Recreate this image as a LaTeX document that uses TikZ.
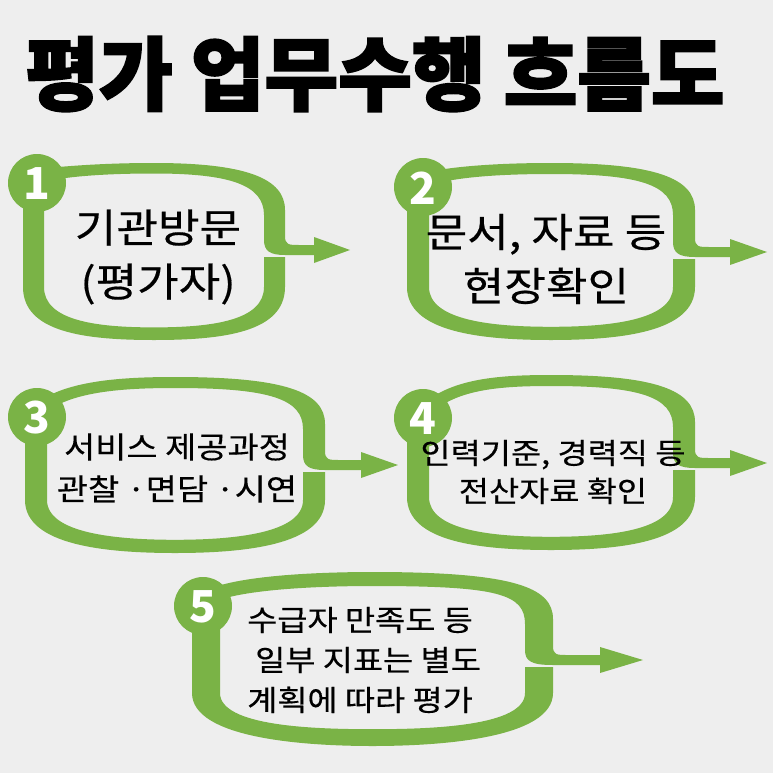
\documentclass[tikz,border=0pt]{standalone}
\usepackage{fontspec}
\newfontfamily\kr{Noto Sans CJK KR}
\newfontfamily\krw{Noto Sans CJK KR}[FakeStretch=1.13, FakeBold=0.4]
\newfontfamily\titlefont{Noto Sans CJK KR}[BoldFeatures={FakeBold=2.5}]
\definecolor{gr}{RGB}{122,179,70}
\definecolor{bg}{RGB}{238,238,238}
% #1 L, #2 R, #3 T, #4 B, #5 arrow y, #6 tip x, #7 cx, #8 cy, #9 band width
\newcommand\flowloop[9]{%
 \fill[gr] ({#7},{#8-14}) .. controls ({#7+30},{#3+3}) and ({(#1+#2)/2-50},{#3}) .. ({(#1+#2)/2},{#3})
   .. controls ({#2-40},{#3}) and ({#2},{#3+15}) .. ({#2},{#3+47})
   -- ({#2},{#5-14}) .. controls ({#2},{#5-5}) and ({#2+4},{#5-5}) .. ({#2+14},{#5-5})
   -- ({#6-#9-15},{#5-5}) -- ({#6-#9-15},{#5-13}) -- ({#6},{#5}) -- ({#6-#9-15},{#5+13}) -- ({#6-#9-15},{#5+5})
   -- ({#2},{#5+5}) .. controls ({#2-#9+6},{#5+5}) and ({#2-#9},{#5+1}) .. ({#2-#9},{#5-10})
   -- ({#2-#9},{#3+52}) .. controls ({#2-#9},{#3+22}) and ({#2-55},{#3+#9/2}) .. ({(#1+#2)/2},{#3+#9/2})
   .. controls ({(#1+#2)/2-50},{#3+#9/2}) and ({#7+30},{#3+#9/2+3}) .. ({#7+5},{#8-1}) -- cycle;
 \fill[gr] ({#1},{#8}) -- ({#1},{#4-53}) .. controls ({#1},{#4-8}) and ({(#1+#2)/2-70},{#4}) .. ({(#1+#2)/2},{#4})
   .. controls ({(#1+#2)/2+70},{#4}) and ({#2},{#4-8}) .. ({#2},{#4-53}) -- ({#2},{#5+7}) -- ({#2-#9},{#5+7}) -- ({#2-#9},{#4-53})
   .. controls ({#2-#9},{#4-20}) and ({(#1+#2)/2+60},{#4-0.6*#9}) .. ({(#1+#2)/2},{#4-0.6*#9})
   .. controls ({(#1+#2)/2-60},{#4-0.6*#9}) and ({#1+#9},{#4-20}) .. ({#1+#9},{#4-53}) -- ({#1+#9},{#8}) -- cycle;
 \fill[gr] ({#7},{#8}) circle (29pt);
}
\tikzset{
  numtext/.style={text=white, font=\kr\bfseries\fontsize{44}{44}\selectfont, inner sep=0pt},
  bigtext/.style={align=center, font=\krw\fontsize{40}{54}\selectfont, inner sep=0pt},
  midtext/.style={align=center, font=\krw\fontsize{30}{42}\selectfont, inner sep=0pt},
  smalltext/.style={align=center, font=\krw\fontsize{29}{38}\selectfont, inner sep=0pt},
  listtext/.style={align=left, anchor=west, font=\krw\fontsize{29}{40}\selectfont, inner sep=0pt}
}
\begin{document}
\begin{tikzpicture}[x=1pt,y=-1pt]
\useasboundingbox (0,0) rectangle (773,773);
\fill[bg] (0,0) rectangle (773,773);
\node[font=\titlefont\bfseries\fontsize{80}{80}\selectfont, inner sep=0pt] (title) at (375,74) {평가 업무수행 흐름도};

\flowloop{23}{285}{163}{340}{250}{350}{37}{183}{21}
\flowloop{407}{695}{163}{340}{252}{767}{423}{187}{22}
\flowloop{25}{325}{377}{553}{465}{398}{37}{417}{22}
\flowloop{407}{695}{375}{550}{463}{767}{423}{418}{22}
\flowloop{192}{553}{572}{746}{660}{643}{203}{606}{28}

\node[numtext] (n1) at (37,184) {1};
\node[numtext] (n2) at (423,188) {2};
\node[numtext] (n3) at (37,418) {3};
\node[numtext] (n4) at (423,419) {4};
\node[numtext] (n5) at (203,607) {5};

\node[bigtext] (t1) at (158,257) {기관방문\\(평가자)};
\node[bigtext] (t2) at (546,259) {문서, 자료 등\\현장확인};
\node[midtext] (t3) at (177,468) {서비스 제공과정\\관찰 ·면담 ·시연};
\node[smalltext] (t4) at (553,472) {인력기준, 경력직 등\\전산자료 확인};
\node[listtext] (t5) at (247,660) {수급자 만족도 등\\\hspace{8pt}일부 지표는 별도\\계획에 따라 평가};
\end{tikzpicture}
\end{document}
